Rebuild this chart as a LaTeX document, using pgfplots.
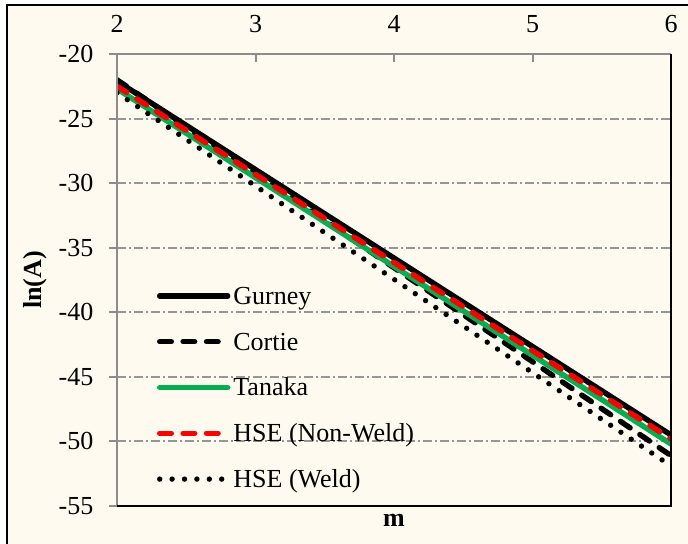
\documentclass[border=0pt]{standalone}
\usepackage{fontspec}
\setmainfont{Liberation Serif}
\usepackage{pgfplots}
\pgfplotsset{compat=1.18}
\definecolor{cream}{RGB}{254,250,239}
\definecolor{gridgray}{RGB}{150,150,150}
\definecolor{axgray}{RGB}{140,140,140}
\definecolor{exgreen}{RGB}{0,176,80}
\definecolor{exred}{RGB}{255,0,0}
\pgfplotsset{
  longleg/.style={legend image code/.code={\draw[##1] (0pt,1.2pt) -- (34pt,1.2pt); \path (36.5pt,1.2pt);}},
  shortleg/.style={legend image code/.code={\draw[##1] (0pt,1.2pt) -- (30pt,1.2pt); \path (36.5pt,1.2pt);}},
}
\begin{document}
\begin{tikzpicture}[font=\fontsize{13}{15.6}\selectfont]
\path[use as bounding box] (0,0) rectangle (344pt,272pt);
\fill[white] (0,0) rectangle (344pt,272pt);
\fill[cream] (3.5pt,0) rectangle (344pt,269.5pt);
\draw[line width=1pt] (3.5pt,0) -- (3.5pt,269.5pt) -- (344pt,269.5pt);
\begin{axis}[
  name=ax,
  at={(58.5pt,19pt)}, anchor=south west,
  scale only axis, width=277pt, height=226pt,
  xmin=2, xmax=6, ymin=-55, ymax=-20,
  xtick={2,3,4,5,6}, xticklabels={2,3,4,5,6},
  ytick={-55,-50,-45,-40,-35,-30,-25,-20},
  yticklabels={-55,-50,-45,-40,-35,-30,-25,-20},
  /pgf/number format/assume math mode=true,
  xtick pos=right, xticklabel pos=right, ytick pos=left,
  tick align=outside, major tick length=4pt,
  xtick style={axgray, line width=1pt, yshift=-4pt},
  ytick style={axgray, line width=1pt},
  xticklabel style={yshift=3.2pt},
  yticklabel style={xshift=-4.3pt},
  axis line style={draw=none},
  ymajorgrids,
  grid style={gridgray, line width=1pt, dash pattern=on 4.5pt off 1.5pt on 1pt off 1.5pt},
  xlabel={\textbf{m}},
  ylabel={\textbf{ln(A)}},
  xlabel style={at={(rel axis cs:0.5,0)}, anchor=north, yshift=-0.8pt},
  ylabel style={at={(rel axis cs:0,0.5)}, anchor=center, yshift=41pt},
  legend cell align=left,
  longleg,
  legend style={at={(rel axis cs:0,0)}, anchor=south west, xshift=20pt, yshift=6.25pt,
    draw=none, fill=none, inner sep=0pt, outer sep=0pt, row sep=10.9pt, column sep=-1pt,
    nodes={inner sep=0pt, text height=9pt, text depth=3pt}},
]
\addplot[black, line width=2.7pt, line cap=round] coordinates {(2,-22.1) (4,-35.8) (6,-49.5)};
\addlegendentry{Gurney}
\addplot[black, line width=2.7pt, line cap=round, dash pattern=on 5.8pt off 5.9pt, shortleg]
  coordinates {(2,-22.0) (4,-36.55) (6,-51.1)};
\addlegendentry{Cortie}
\addplot[exgreen, line width=2.7pt, line cap=round] coordinates {(2,-22.7) (4,-36.45) (6,-50.2)};
\addlegendentry{Tanaka}
\addplot[exred, line width=2.7pt, line cap=round, dash pattern=on 5.8pt off 5.9pt, shortleg]
  coordinates {(2,-22.5) (4,-36.15) (6,-49.8)};
\addlegendentry{HSE (Non-Weld)}
\addplot[black, line width=2.7pt, line cap=round, dash pattern=on 0pt off 6.2pt]
  coordinates {(2,-23.0) (4,-37.45) (6,-51.9)};
\addlegendentry{HSE (Weld)}
\end{axis}
\draw[axgray, line width=1pt] (ax.south west) -- (ax.north west) -- (ax.north east);
\draw[black, line width=1pt] (ax.north east) -- (ax.south east) -- (ax.south west);
\end{tikzpicture}
\end{document}
